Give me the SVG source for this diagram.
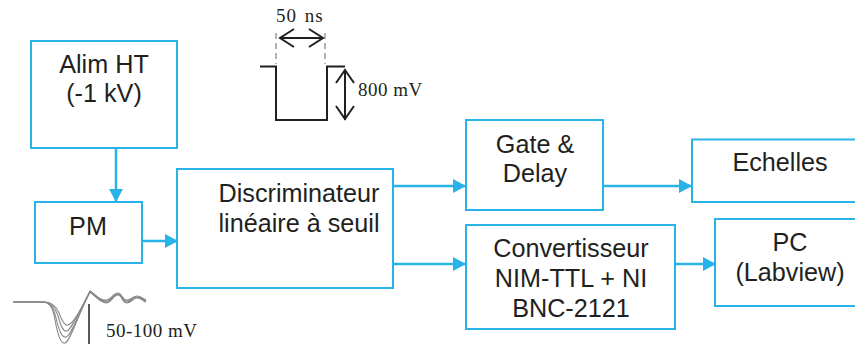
<svg xmlns="http://www.w3.org/2000/svg" width="855" height="346" viewBox="0 0 855 346">
<style>
.b{fill:#fff;stroke:#29b2e8;stroke-width:2}
.c{fill:none;stroke:#29b2e8;stroke-width:2.5}
.t{font-family:"Liberation Sans",Arial,sans-serif;font-size:25.200px;fill:#231f20;text-anchor:middle}
.s{font-family:"Liberation Serif","Times New Roman",serif;font-size:19px;letter-spacing:0.500px;fill:#231f20}
.k{fill:none;stroke:#231f20;stroke-width:2}
.w{fill:none;stroke:#888;stroke-width:1.100}
</style>
<defs><marker id="a" markerUnits="userSpaceOnUse" markerWidth="14" markerHeight="14" refX="13" refY="7" orient="auto"><path d="M0 0L13 7L0 14Z" fill="#29b2e8"/></marker></defs>
<rect width="855" height="346" fill="#fff"/>
<g id="connectors">
<path class="c" d="M116 148V202" marker-end="url(#a)"/>
<path class="c" d="M142 241H178" marker-end="url(#a)"/>
<path class="c" d="M393 186H466" marker-end="url(#a)"/>
<path class="c" d="M393 264H466" marker-end="url(#a)"/>
<path class="c" d="M603 186H692" marker-end="url(#a)"/>
<path class="c" d="M675 264H716" marker-end="url(#a)"/>
</g>
<g id="alim"><rect class="b" x="31" y="41" width="146" height="107"/><text class="t" x="104" y="73">Alim HT</text><text class="t" x="104" y="102">(-1 kV)</text></g>
<g id="pm"><rect class="b" x="35" y="202" width="107" height="61"/><text class="t" x="88" y="235">PM</text></g>
<g id="discriminateur"><rect class="b" x="177" y="169" width="216" height="119"/><text class="t" x="299" y="202">Discriminateur</text><text class="t" x="299" y="232">linéaire à seuil</text></g>
<g id="gate"><rect class="b" x="466" y="120" width="137" height="90"/><text class="t" x="535" y="153">Gate &amp;</text><text class="t" x="535" y="182">Delay</text></g>
<g id="convertisseur"><rect class="b" x="466" y="225" width="209" height="104"/><text class="t" x="571" y="257">Convertisseur</text><text class="t" x="571" y="287">NIM-TTL + NI</text><text class="t" x="571" y="317">BNC-2121</text></g>
<g id="echelles"><rect class="b" x="692" y="139.500" width="170" height="62.500"/><text class="t" x="780" y="171">Echelles</text></g>
<g id="pc"><rect class="b" x="715" y="219" width="147" height="87"/><text class="t" x="790" y="251">PC</text><text class="t" x="790" y="281">(Labview)</text></g>
<g id="pulse">
<path class="k" d="M260 66.500H276V120H327V66.500H345"/>
<path d="M276 33V64M325 33V64" fill="none" stroke="#999" stroke-width="1.500" stroke-dasharray="6 4"/>
<path class="k" d="M280 38H323M294 29L280 38L294 47M309 29L323 38L309 47"/>
<path class="k" d="M345 70V120M336 83L345 70L354 83M336 106L345 119L354 106"/>
<text class="s" x="276" y="22" style="letter-spacing:1px;word-spacing:2px">50 ns</text>
<text class="s" x="358" y="96">800 mV</text>
</g>
<g id="signal">
<path class="w" d="M13 302H42C50 302 53 308 55 320C58 336 61 344 65 343C70 342 78 315 90 292C96 296 100 303 107 303C112 302 113 295 118 295C122 295 122 303 127 303C131 303 133 298 137 298C141 298 143 301 146 302"/>
<path class="w" d="M13 302H43C50 302 54 308 56 318C59 331 62 338 66 337C71 336 78 315 90 292C96 296 100 303 107 302C112 301 113 294 118 294C122 294 122 302 127 302C131 302 133 297 137 297C141 297 143 300 146 301"/>
<path class="w" d="M13 302H44C50 302 55 307 58 316C61 326 63 332 67 331C71 330 79 313 90 291C96 295 100 302 107 301C112 300 113 294 118 294C122 294 122 301 127 301C131 301 133 297 137 297C141 297 143 300 146 301"/>
<path class="w" d="M13 302H45C51 302 56 306 59 313C62 321 65 326 68 325C72 324 80 312 90 291C96 295 100 301 107 300C112 299 113 293 118 293C122 293 122 300 127 300C131 300 133 296 137 296C141 296 143 299 146 300"/>
<path d="M89 304V344" fill="none" stroke="#231f20" stroke-width="1.500"/>
<text class="s" x="106" y="337">50-100 mV</text>
</g>
</svg>
